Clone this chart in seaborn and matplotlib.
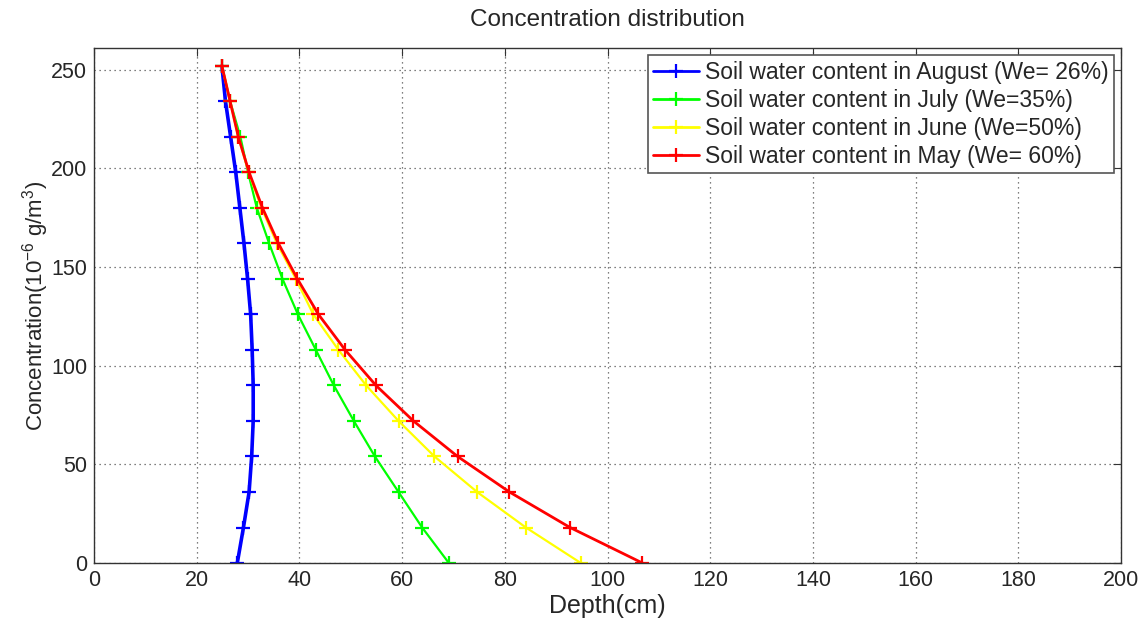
import numpy as np
import pandas as pd
import matplotlib
matplotlib.use("Agg")
import matplotlib.pyplot as plt
import seaborn as sns

conc = [0, 18, 36, 54, 72, 90, 108, 126, 144, 162, 180, 198, 216, 234, 252]
depth_aug = [27.9, 29.1, 30.2, 30.7, 31.0, 31.0, 30.8, 30.5, 29.9, 29.2, 28.4, 27.6, 26.6, 25.6, 24.9]
depth_jul = [69.1, 63.9, 59.3, 54.7, 50.6, 46.7, 43.2, 39.7, 36.7, 34.1, 31.7, 30.0, 28.5, 26.5, 24.9]
depth_jun = [94.8, 84.1, 74.6, 66.3, 59.3, 53.0, 47.6, 42.7, 39.3, 35.6, 32.6, 30.1, 28.1, 26.5, 24.9]
depth_may = [106.8, 92.7, 80.9, 70.8, 62.2, 54.9, 48.9, 43.7, 39.6, 35.9, 32.8, 30.2, 28.1, 26.5, 24.9]

labels = ["Soil water content in August (We= 26%)",
          "Soil water content in July (We=35%)",
          "Soil water content in June (We=50%)",
          "Soil water content in May (We= 60%)"]
colors = ["#0000ff", "#00ff00", "#ffff00", "#ff0000"]
widths = [2.6, 1.6, 1.6, 2.0]

sns.set_style("white")
plt.rcParams["font.family"] = ["Liberation Sans", "DejaVu Sans"]
plt.rcParams["mathtext.default"] = "regular"

fig = plt.figure(figsize=(11.48, 6.2), dpi=100)
ax = fig.add_axes([0.0819, 0.0919, 0.8946, 0.8307])

for d, lab, c, w in zip([depth_aug, depth_jul, depth_jun, depth_may], labels, colors, widths):
    df = pd.DataFrame({"depth": d, "conc": conc})
    sns.lineplot(data=df, x="depth", y="conc", sort=False, estimator=None,
                 color=c, lw=w, marker="+", markersize=10, mew=1.6,
                 mec=c, label=lab, ax=ax)

ax.set_xlim(0, 200)
ax.set_ylim(0, 261)
ax.set_xticks(np.arange(0, 201, 20))
ax.set_yticks(np.arange(0, 251, 50))
ax.grid(True, linestyle=(0, (1, 3)), color="#555555", linewidth=0.9)
for s in ax.spines.values():
    s.set_visible(True)
    s.set_color("#333333")
    s.set_linewidth(1.0)
ax.tick_params(direction="in", length=6, labelsize=15.5, top=True, right=True,
               color="#333333", pad=5)
ax.set_xlabel("Depth(cm)", fontsize=18, labelpad=2)
ax.set_ylabel("Concentration(10$^{-6}$ g/m$^3$)", fontsize=16, labelpad=0)
ax.set_title("Concentration distribution", fontsize=17.5, pad=16)

leg = ax.legend(loc="upper right", fontsize=16.5, frameon=True, fancybox=False,
                borderaxespad=0.3, handlelength=2.0, handletextpad=0.25,
                labelspacing=0.22, borderpad=0.25)
leg.get_frame().set_edgecolor("#555555")
leg.get_frame().set_linewidth(1.2)
leg.get_frame().set_alpha(1)
for line in leg.get_lines():
    line.set_linewidth(2.0)

fig.savefig("out.png", dpi=100)
